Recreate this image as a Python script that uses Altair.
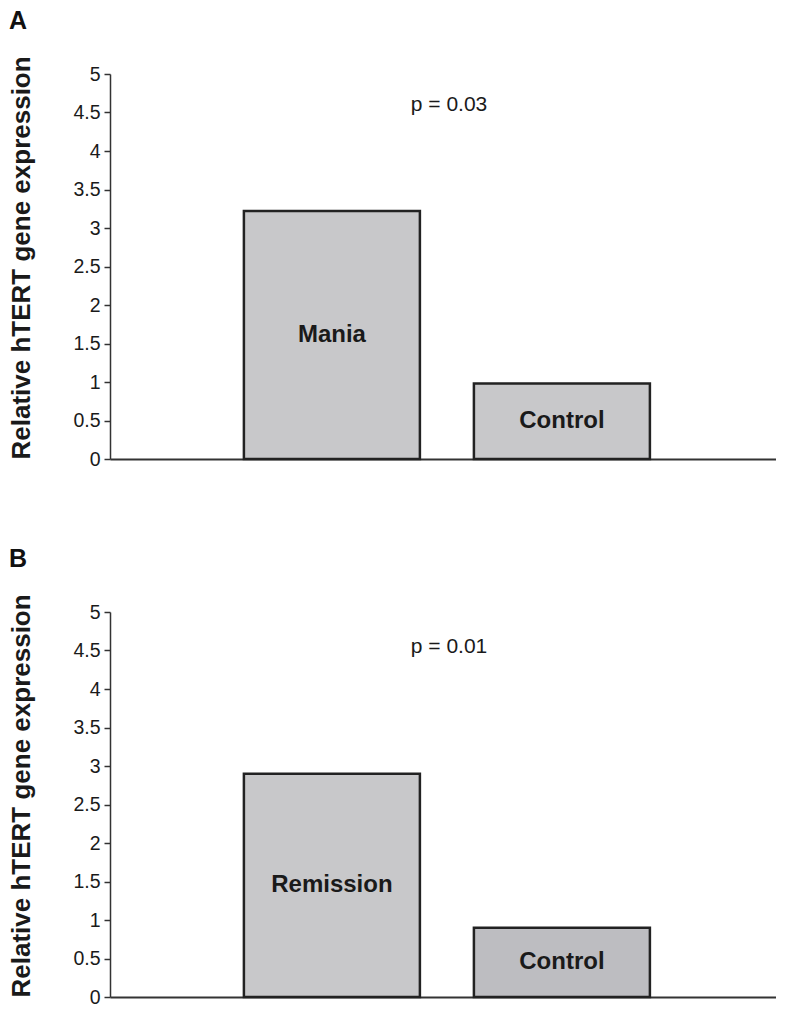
import altair as alt
import pandas as pd

# ---- data ----
panel_titles = ["A", "B"]
groups_a = ["Mania", "Control"]
values_a = [3.22, 0.98]
groups_b = ["Remission", "Control"]
values_b = [2.90, 0.90]
fills_a = ["#c8c8ca", "#c8c8ca"]
fills_b = ["#c8c8ca", "#bdbdc1"]
p_labels = ["p = 0.03", "p = 0.01"]
p_values_y = [4.60, 4.55]
y_tick_values = [0, 0.5, 1, 1.5, 2, 2.5, 3, 3.5, 4, 4.5, 5]
y_title = "Relative hTERT gene expression"

FONT = "Liberation Sans"
W = 666
H = 385


def y_axis():
    return alt.Axis(
        values=y_tick_values, format="~g", title=y_title,
        titleAnchor="start", titleFont=FONT, titleFontSize=26,
        titleFontWeight="bold", titleColor="#1a1a1a", titlePadding=38,
        labelFont=FONT, labelFontSize=19.5, labelColor="#1a1a1a",
        labelPadding=4, tickSize=6, tickColor="#333333", tickWidth=1.5,
        domainColor="#333333", domainWidth=1.5, grid=False, labelOverlap=False,
    )


def y_scale():
    return alt.Scale(domain=[0, 5], nice=False, zero=True)


def x_enc(groups):
    return alt.X(
        "group:N",
        sort=groups,
        scale=alt.Scale(paddingInner=0.2348, paddingOuter=0.5652, align=0.515),
        axis=alt.Axis(title=None, labels=False, ticks=False, domain=True,
                      domainColor="#333333", domainWidth=2, grid=False),
    )


def panel(title, groups, values, fills, ptext, py):
    df = pd.DataFrame({"group": groups, "value": values, "fill": fills})
    base = alt.Chart(df)
    bars = base.mark_bar(stroke="#222222", strokeWidth=2.5).encode(
        x=x_enc(groups),
        y=alt.Y("value:Q", scale=y_scale(), axis=y_axis()),
        fill=alt.Fill("fill:N", scale=None, legend=None),
    )
    labels = base.transform_calculate(mid="datum.value / 2").mark_text(
        font=FONT, fontSize=24, fontWeight="bold", color="#1a1a1a", baseline="middle"
    ).encode(
        x=x_enc(groups),
        y=alt.Y("mid:Q", scale=y_scale(), axis=y_axis()),
        text="group:N",
    )
    pdf = pd.DataFrame({"t": [ptext], "y": [py]})
    ptxt = alt.Chart(pdf).mark_text(
        font=FONT, fontSize=21, color="#1a1a1a", baseline="middle"
    ).encode(
        x=alt.value(W / 2 + 6),
        y=alt.Y("y:Q", scale=y_scale(), axis=y_axis()),
        text="t:N",
    )
    return alt.layer(bars, labels, ptxt).properties(
        width=W, height=H,
        title=alt.TitleParams(title, anchor="start", frame="bounds", font=FONT,
                              fontSize=25, fontWeight="bold", color="#111111",
                              offset=22),
    )


chart_a = panel(panel_titles[0], groups_a, values_a, fills_a, p_labels[0], p_values_y[0])
chart_b = panel(panel_titles[1], groups_b, values_b, fills_b, p_labels[1], p_values_y[1])

chart = (
    alt.vconcat(chart_a, chart_b, spacing=77)
    .properties(padding=0, background="white")
    .configure_view(stroke=None)
)

chart.save("out.html", embed_options={"renderer": "svg", "actions": False})
